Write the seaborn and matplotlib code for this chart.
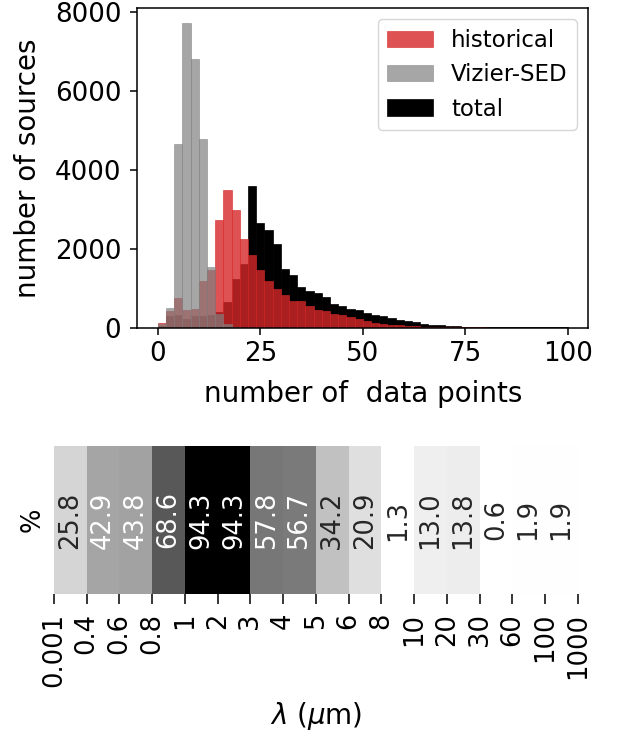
import numpy as np
import pandas as pd
import matplotlib
matplotlib.use("Agg")
import matplotlib.pyplot as plt
from matplotlib.colors import to_rgba
import seaborn as sns

# ---------------- data ----------------
bin_edges = list(range(0, 102, 2))          # 50 bins of width 2 from 0 to 100
bin_centers = [e + 1 for e in bin_edges[:-1]]

historical_counts = [115, 425, 750, 440, 470, 1180, 1460, 2728, 3490, 2982,
                     2246, 1840, 1459, 1180, 977, 825, 673, 677, 546, 444,
                     419, 343, 317, 266, 216, 165, 114, 89, 63, 63,
                     38, 38, 21, 13, 8, 5, 3, 2, 1, 1,
                     0, 0, 0, 0, 0, 0, 0, 0, 0, 0]
vizier_counts = [100, 487, 4657, 7720, 6806, 4776, 1528, 343, 89, 10,
                 0, 0, 0, 0, 0, 0, 0, 0, 0, 0,
                 0, 0, 0, 0, 0, 0, 0, 0, 0, 0,
                 0, 0, 0, 0, 0, 0, 0, 0, 0, 0,
                 0, 0, 0, 0, 0, 0, 0, 0, 0, 0]
total_counts = [40, 290, 315, 210, 300, 295, 310, 402, 650, 1231,
                1612, 3591, 2644, 2475, 2119, 1485, 1332, 1032, 926, 870,
                770, 596, 546, 470, 444, 368, 317, 292, 241, 190,
                165, 140, 89, 63, 55, 38, 30, 25, 18, 15,
                10, 6, 4, 3, 2, 2, 1, 1, 1, 1]

heat_values = [25.8, 42.9, 43.8, 68.6, 94.3, 94.3, 57.8, 56.7, 34.2, 20.9,
               1.3, 13.0, 13.8, 0.6, 1.9, 1.9]
wavelength_edges = ['0.001', '0.4', '0.6', '0.8', '1', '2', '3', '4', '5', '6',
                    '8', '10', '20', '30', '60', '100', '1000']
heat_row_label = ['%']

hist_df = pd.DataFrame({'x': bin_centers, 'historical': historical_counts,
                        'vizier': vizier_counts, 'total': total_counts})

# ---------------- figure ----------------
W, H = 619, 733
fig = plt.figure(figsize=(W / 100, H / 100), dpi=100)
plt.rcParams['font.family'] = ['DejaVu Sans']

def box(l, r, t, b):
    return [l / W, 1 - b / H, (r - l) / W, (b - t) / H]

ax = fig.add_axes(box(137.3, 588.3, 8, 327.5))
hax = fig.add_axes(box(54, 577.7, 446, 594))

red = 'tab:red'
gray = 'gray'
sns.histplot(data=hist_df, x='x', weights='total', bins=bin_edges, color='black',
             alpha=1.0, edgecolor='black', linewidth=0.5, label='total', ax=ax)
sns.histplot(data=hist_df, x='x', weights='historical', bins=bin_edges, color=red,
             alpha=0.8, edgecolor=to_rgba(red, 0.8), linewidth=0.5,
             label='historical', ax=ax)
sns.histplot(data=hist_df, x='x', weights='vizier', bins=bin_edges, color=gray,
             alpha=0.7, edgecolor=to_rgba(gray, 0.7), linewidth=0.5,
             label='Vizier-SED', ax=ax)

ax.set_xlim(-5, 105)
ax.set_ylim(0, max(vizier_counts) * 1.05)
ax.set_xticks([0, 25, 50, 75, 100])
ax.set_yticks([0, 2000, 4000, 6000, 8000])
ax.tick_params(axis='both', labelsize=18.8, length=5, width=1.1)
ax.tick_params(axis='x', pad=5)
ax.tick_params(axis='y', pad=6.5)
for s in ax.spines.values():
    s.set_linewidth(1.1)
ax.set_xlabel('number of  data points', fontsize=20, labelpad=9)
ax.set_ylabel('number of sources', fontsize=20, labelpad=9.5)

handles, labels = ax.get_legend_handles_labels()
order = [labels.index(n) for n in ['historical', 'Vizier-SED', 'total']]
ax.legend([handles[i] for i in order], [labels[i] for i in order],
          loc='upper right', fontsize=16.5)

# ---------------- heatmap ----------------
df = pd.DataFrame([heat_values], index=heat_row_label)
sns.heatmap(df, ax=hax, cmap='Greys', annot=True, fmt='.1f', cbar=False,
            annot_kws={'rotation': 90, 'fontsize': 18.5},
            xticklabels=False, yticklabels=heat_row_label)
hax.set_xticks(np.arange(len(wavelength_edges)))
hax.set_xticklabels(wavelength_edges, rotation=90, fontsize=18.5)
hax.set_yticks([0.5])
hax.set_yticklabels(heat_row_label, rotation=90, fontsize=18.5, va='center')
hax.tick_params(axis='x', length=7, width=1.1, pad=6.5, bottom=True)
hax.tick_params(axis='y', length=0, pad=5.8)
hax.set_xlabel(r'$\lambda$ ($\mu$m)', fontsize=20, labelpad=9.5)

fig.savefig('out.png', dpi=100, facecolor='white')
